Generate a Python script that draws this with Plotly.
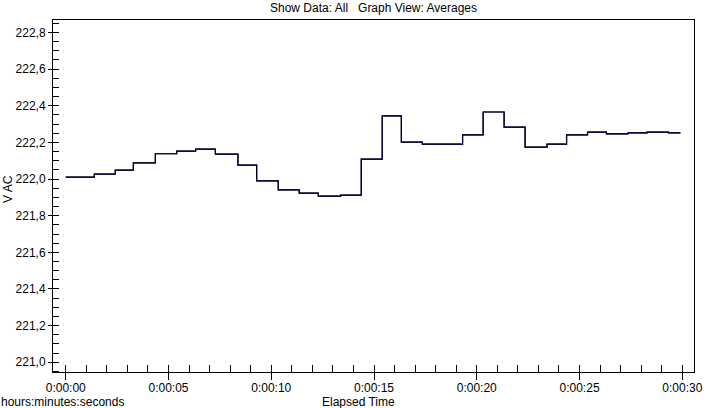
import plotly.graph_objects as go

# Step boundaries (seconds) and average values (V AC)
step_times = [0.0, 1.39, 2.41, 3.29, 4.36, 5.40, 6.32, 7.28, 8.38, 9.29, 10.34,
              11.36, 12.29, 13.38, 14.38, 15.40, 16.33, 17.35, 19.31, 20.31,
              21.33, 22.35, 23.42, 24.37, 25.39, 26.31, 27.36, 28.29, 29.33, 29.91]
avg_values = [222.010, 222.027, 222.049, 222.088, 222.138, 222.152, 222.163,
              222.136, 222.076, 221.990, 221.941, 221.923, 221.907, 221.912,
              222.109, 222.345, 222.202, 222.191, 222.241, 222.366, 222.283,
              222.174, 222.191, 222.241, 222.256, 222.247, 222.252, 222.256,
              222.252]

x_tick_vals = [0, 5, 10, 15, 20, 25, 30]
x_tick_text = ["0:00:00", "0:00:05", "0:00:10", "0:00:15", "0:00:20", "0:00:25", "0:00:30"]
y_tick_vals = [221.0, 221.2, 221.4, 221.6, 221.8, 222.0, 222.2, 222.4, 222.6, 222.8]
y_tick_text = ["221,0", "221,2", "221,4", "221,6", "221,8", "222,0", "222,2", "222,4", "222,6", "222,8"]

title_text = "Show Data: All\u00a0\u00a0\u00a0Graph View: Averages"
y_title = "V AC"
x_title = "Elapsed Time"
x_unit = "hours:minutes:seconds"

x_range = [-0.62, 30.57]
y_range = [220.947, 222.868]

line_color = "#00002e"
font_family = "Liberation Sans, Arial, sans-serif"

xs = step_times
ys = avg_values + [avg_values[-1]]

fig = go.Figure()
fig.add_trace(go.Scatter(x=xs, y=ys, mode="lines", line=dict(shape="hv", color=line_color, width=1.2),
                         showlegend=False, hoverinfo="skip", xaxis="x2", yaxis="y2"))
fig.add_trace(go.Scatter(x=xs, y=ys, mode="lines", line=dict(shape="hv", color=line_color, width=1.2),
                         showlegend=False))

fig.update_layout(
    width=719, height=408,
    margin=dict(l=53, r=25, t=20, b=36, autoexpand=False),
    paper_bgcolor="white", plot_bgcolor="white",
    font=dict(family=font_family, size=12, color="#000000"),
    xaxis=dict(range=x_range, showgrid=False, zeroline=False, showline=True, linecolor="black",
               linewidth=1, mirror=True, ticks="outside", ticklen=7, tickcolor="black",
               tickmode="array", tickvals=x_tick_vals, ticktext=x_tick_text, automargin=False,
               ticklabelstandoff=-2,
               tickfont=dict(size=12, color="#000000"),
               minor=dict(ticks="inside", ticklen=7, dtick=1, tick0=0, tickcolor="black", showgrid=False)),
    xaxis2=dict(range=x_range, overlaying="x", side="bottom", showgrid=False, zeroline=False,
                showline=False, ticks="inside", ticklen=7, tickcolor="black", automargin=False,
                tickmode="array", tickvals=x_tick_vals, showticklabels=False),
    yaxis=dict(range=y_range, showgrid=False, zeroline=False, showline=True, linecolor="black",
               linewidth=1, mirror=True, ticks="outside", ticklen=4, tickcolor="black",
               tickmode="array", tickvals=y_tick_vals, ticktext=y_tick_text, automargin=False,
               tickfont=dict(size=12, color="#000000"),
               minor=dict(ticks="inside", ticklen=6, dtick=0.05, tick0=221.0, tickcolor="black", showgrid=False)),
    yaxis2=dict(range=y_range, overlaying="y", side="left", showgrid=False, zeroline=False,
                showline=False, ticks="inside", ticklen=6, tickcolor="black", automargin=False,
                tickmode="array", tickvals=y_tick_vals, showticklabels=False),
    annotations=[
        dict(text=title_text, x=0.5, y=1.0, xref="paper", yref="paper", xanchor="center", yanchor="bottom",
             yshift=3, showarrow=False, font=dict(size=12, color="#000000")),
        dict(text=y_title, x=0, y=0.52, xref="paper", yref="paper", xanchor="center", yanchor="middle",
             xshift=-45, textangle=-90, showarrow=False, font=dict(size=12, color="#000000")),
        dict(text=x_title, x=0.477, y=0, xref="paper", yref="paper", xanchor="center", yanchor="top",
             yshift=-22, borderpad=0, showarrow=False, font=dict(size=12, color="#000000")),
        dict(text=x_unit, x=0, y=0, xref="paper", yref="paper", xanchor="left", yanchor="top",
             xshift=-53, yshift=-22, borderpad=0, showarrow=False, font=dict(size=12, color="#000000")),
    ],
)

fig.write_html("out.html", config={"displayModeBar": False},
               post_script="document.body.style.margin='0';")
